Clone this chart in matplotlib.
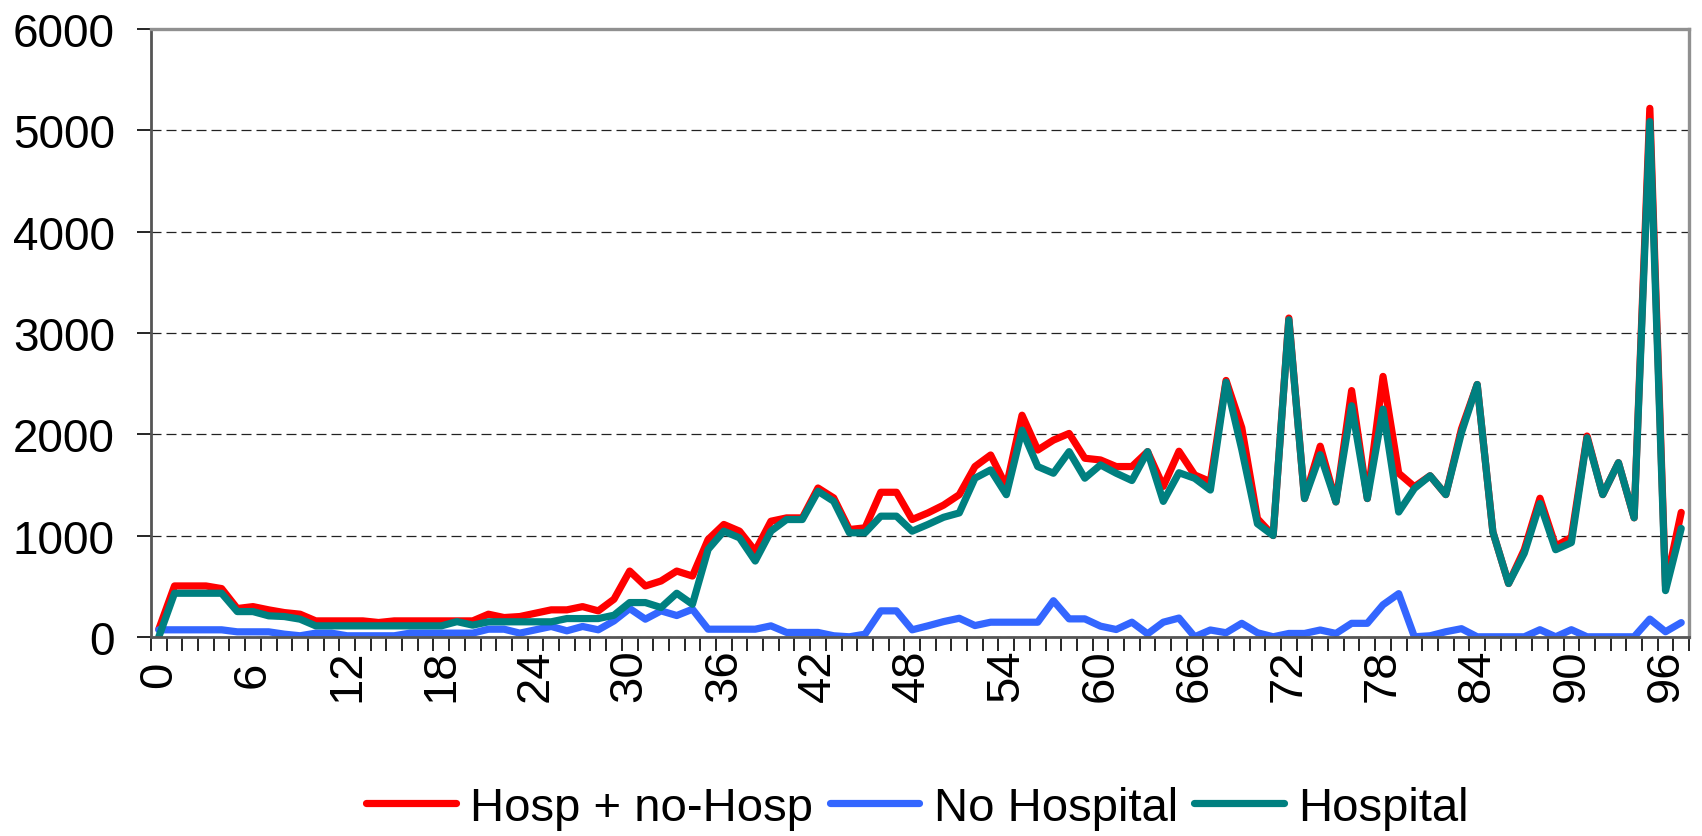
import numpy as np
import matplotlib
matplotlib.use("Agg")
import matplotlib.pyplot as plt
from matplotlib.ticker import MultipleLocator, FixedLocator

plt.rcParams['font.family'] = ['Liberation Sans', 'DejaVu Sans']

# values per category 0..97
hosp_total = [75, 502, 502, 502, 476, 279, 298, 266, 239, 223,
              157, 157, 157, 157, 141, 157, 157, 157, 157, 157,
              157, 223, 190, 200, 233, 266, 266, 298, 256, 371,
              649, 502, 551, 649, 600, 961, 1109, 1043, 846, 1141,
              1174, 1174, 1469, 1371, 1059, 1076, 1427, 1427, 1158, 1223,
              1300, 1403, 1681, 1795, 1485, 2188, 1844, 1942, 2008, 1763,
              1746, 1681, 1681, 1828, 1485, 1832, 1598, 1532, 2531, 2065,
              1166, 1000, 3147, 1365, 1882, 1332, 2431, 1365, 2571, 1615,
              1482, 1590, 1404, 2053, 2491, 1035, 526, 860, 1368, 895,
              982, 1982, 1404, 1719, 1175, 5218, 500, 1228]

no_hospital = [69, 69, 69, 69, 69, 49, 49, 49, 26, 10,
               36, 36, 10, 10, 10, 10, 36, 36, 36, 36,
               36, 75, 75, 36, 69, 102, 59, 102, 69, 157,
               279, 174, 256, 210, 272, 75, 75, 75, 75, 108,
               43, 43, 43, 10, 0, 26, 256, 256, 69, 108,
               150, 183, 111, 144, 144, 144, 144, 356, 177, 177,
               105, 72, 144, 29, 144, 185, 0, 67, 40, 133,
               40, 0, 33, 33, 67, 33, 133, 133, 316, 426,
               0, 10, 50, 80, 0, 0, 0, 0, 70, 0,
               70, 0, 0, 0, 0, 175, 50, 140]

hospital = [0, 430, 430, 430, 430, 249, 249, 207, 200, 174,
            108, 108, 108, 108, 108, 108, 108, 108, 108, 150,
            115, 148, 148, 148, 148, 148, 180, 180, 180, 213,
            338, 338, 289, 430, 321, 863, 1043, 977, 748, 1043,
            1158, 1158, 1437, 1338, 1027, 1027, 1191, 1191, 1043, 1109,
            1180, 1223, 1566, 1648, 1403, 2040, 1681, 1615, 1828, 1566,
            1697, 1615, 1543, 1828, 1337, 1620, 1565, 1449, 2514, 1850,
            1116, 1000, 3130, 1365, 1798, 1332, 2281, 1365, 2248, 1232,
            1465, 1590, 1404, 2017, 2491, 1035, 526, 825, 1316, 860,
            930, 1965, 1404, 1719, 1175, 5088, 456, 1070]

labels = ["Hosp + no-Hosp", "No Hospital", "Hospital"]
colors = ["#FF0000", "#3366FF", "#008080"]

x = np.arange(len(hosp_total))

fig = plt.figure(figsize=(17.02, 8.37), dpi=100)
ax = fig.add_axes([0.0887, 0.238, 0.9037, 0.726])

for series, label, color in zip([hosp_total, no_hospital, hospital], labels, colors):
    ax.plot(x, series, color=color, lw=5.2, label=label,
            solid_joinstyle='round', solid_capstyle='round')

ax.set_xlim(-0.5, len(x) - 0.5)
ax.set_ylim(0, 6000)

ax.yaxis.set_major_locator(MultipleLocator(1000))
ax.yaxis.grid(True, color='#222222', lw=0.9, linestyle=(0, (8, 4)))
ax.set_axisbelow(True)

ax.xaxis.set_major_locator(FixedLocator(np.arange(0, 97, 6)))
ax.xaxis.set_minor_locator(FixedLocator(np.arange(-0.5, len(x), 1)))
ax.tick_params(axis='x', which='major', length=0, pad=27, labelsize=34, labelrotation=90)
ax.tick_params(axis='x', which='minor', length=10, width=1.2, color='black')
ax.tick_params(axis='y', which='major', length=10, width=1.2, pad=16, labelsize=33)
plt.setp(ax.get_xticklabels(), va='center')

for side in ['top', 'right']:
    ax.spines[side].set_color('#909090')
    ax.spines[side].set_linewidth(2.4)
for side in ['left', 'bottom']:
    ax.spines[side].set_color('#555555')
    ax.spines[side].set_linewidth(2.0)

fig.legend(loc='center', bbox_to_anchor=(0.539, 0.034), ncol=3, frameon=False,
           fontsize=34, handlelength=1.9, handletextpad=0.3, columnspacing=0.35)

fig.savefig("out.png", dpi=100)
